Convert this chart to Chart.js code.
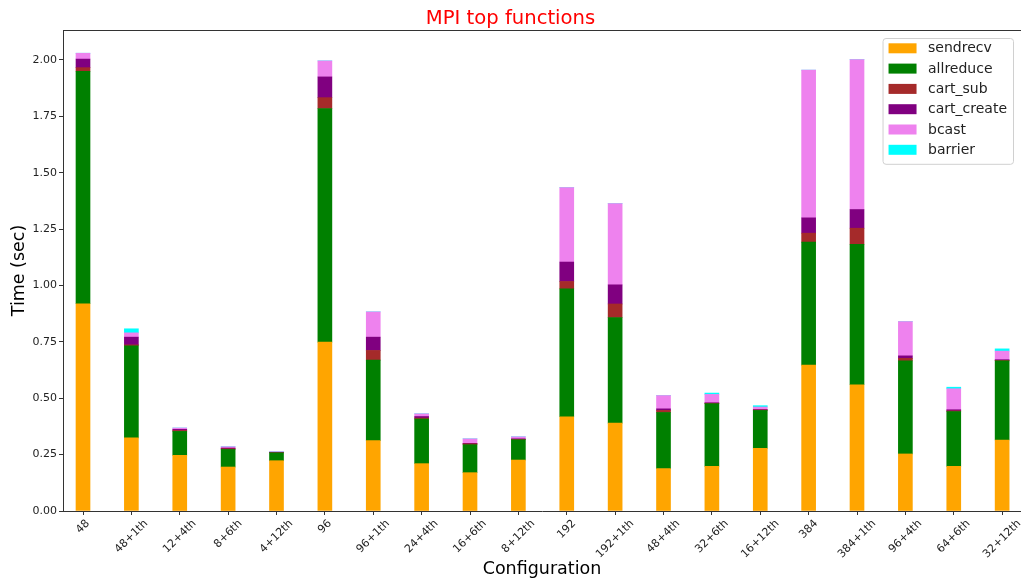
<!DOCTYPE html>
<html>
<head>
<meta charset="utf-8">
<title>MPI top functions</title>
<script src="https://cdn.jsdelivr.net/npm/chart.js@4.4.0/dist/chart.umd.min.js"></script>
<style>
  html, body { margin: 0; padding: 0; background: #fff; }
</style>
</head>
<body>
<canvas id="mpi-chart" width="1021" height="580"></canvas>
<script>
// run configurations (ranks + threads)
const configurations = ["48", "48+1th", "12+4th", "8+6th", "4+12th", "96", "96+1th", "24+4th", "16+6th", "8+12th",
  "192", "192+1th", "48+4th", "32+6th", "16+12th", "384", "384+1th", "96+4th", "64+6th", "32+12th"];

// time spent per MPI call, seconds
const sendrecv    = [0.919, 0.324, 0.247, 0.195, 0.223, 0.749, 0.312, 0.210, 0.170, 0.226,
                     0.418, 0.390, 0.188, 0.198, 0.278, 0.647, 0.560, 0.253, 0.198, 0.315];
const allreduce   = [1.031, 0.409, 0.106, 0.078, 0.035, 1.036, 0.357, 0.198, 0.124, 0.090,
                     0.567, 0.468, 0.249, 0.278, 0.168, 0.545, 0.623, 0.413, 0.243, 0.351];
const cart_sub    = [0.016, 0.004, 0.004, 0.003, 0.001, 0.048, 0.043, 0.004, 0.004, 0.002,
                     0.033, 0.060, 0.009, 0.002, 0.002, 0.040, 0.071, 0.011, 0.003, 0.002];
const cart_create = [0.038, 0.034, 0.005, 0.003, 0.001, 0.092, 0.059, 0.007, 0.002, 0.002,
                     0.086, 0.085, 0.007, 0.002, 0.002, 0.068, 0.083, 0.011, 0.005, 0.003];
const bcast       = [0.026, 0.019, 0.006, 0.006, 0.003, 0.071, 0.112, 0.012, 0.020, 0.009,
                     0.330, 0.360, 0.059, 0.037, 0.011, 0.655, 0.665, 0.152, 0.093, 0.038];
const barrier     = [0, 0.018, 0, 0, 0, 0, 0, 0, 0, 0,
                     0, 0, 0, 0.006, 0.006, 0, 0, 0, 0.007, 0.010];

const yTicks = [0, 0.25, 0.5, 0.75, 1.0, 1.25, 1.5, 1.75, 2.0];

const FONT = "'DejaVu Sans', 'Liberation Sans', sans-serif";
const AXIS = '#333333';

const series = [
  ['sendrecv', sendrecv, '#ffa500'],
  ['allreduce', allreduce, '#008000'],
  ['cart_sub', cart_sub, '#a52a2a'],
  ['cart_create', cart_create, '#800080'],
  ['bcast', bcast, '#ee82ee'],
  ['barrier', barrier, '#00ffff']
];

const datasets = series.map(([name, values, color]) => ({
  label: name,
  data: values.map((v, i) => ({ x: i, y: v })),
  backgroundColor: color,
  borderWidth: 0,
  barThickness: 14
}));

// category names, rotated 45deg and centred under each tick
const rotatedLabels = {
  id: 'rotatedLabels',
  afterDraw(chart) {
    const ctx = chart.ctx;
    const xs = chart.scales.x;
    const size = 11;
    ctx.save();
    ctx.font = size + 'px ' + FONT;
    ctx.fillStyle = '#222';
    ctx.textAlign = 'center';
    ctx.textBaseline = 'middle';
    const top = chart.chartArea.bottom + 7;
    configurations.forEach((name, i) => {
      const w = ctx.measureText(name).width;
      const box = (w + size) * Math.SQRT1_2;
      ctx.save();
      ctx.translate(xs.getPixelForValue(i), top + box / 2);
      ctx.rotate(-Math.PI / 4);
      ctx.fillText(name, 0, 0);
      ctx.restore();
    });
    ctx.restore();
  }
};

// top spine
const frame = {
  id: 'frame',
  afterDraw(chart) {
    const { left, right, top } = chart.chartArea;
    const ctx = chart.ctx;
    ctx.save();
    ctx.strokeStyle = AXIS;
    ctx.lineWidth = 1;
    ctx.beginPath();
    ctx.moveTo(left, top + 0.5);
    ctx.lineTo(right, top + 0.5);
    ctx.stroke();
    ctx.restore();
  }
};

// legend box in the upper right corner of the plot
const cornerLegend = {
  id: 'cornerLegend',
  afterDraw(chart) {
    const ctx = chart.ctx;
    const area = chart.chartArea;
    const size = 14, rowH = 20.3, pad = 6, handle = 28, gap = 11.5;
    ctx.save();
    ctx.font = size + 'px ' + FONT;
    const items = chart.data.datasets;
    const textW = Math.max(...items.map(d => ctx.measureText(d.label).width));
    const w = pad + handle + gap + textW + pad;
    const h = items.length * rowH + 4;
    const x0 = area.right - 8 - w;
    const y0 = area.top + 8;
    ctx.beginPath();
    ctx.roundRect(x0 + 0.5, y0 + 0.5, w, h, 3);
    ctx.fillStyle = 'rgba(255,255,255,0.8)';
    ctx.fill();
    ctx.strokeStyle = '#d0d0d0';
    ctx.lineWidth = 1;
    ctx.stroke();
    ctx.textBaseline = 'middle';
    ctx.textAlign = 'left';
    items.forEach((d, i) => {
      const cy = y0 + 10.3 + i * rowH;
      ctx.fillStyle = d.backgroundColor;
      ctx.fillRect(x0 + pad, cy - 5, handle, 10);
      ctx.fillStyle = '#222';
      ctx.fillText(d.label, x0 + pad + handle + gap, cy + 0.5);
    });
    ctx.restore();
  }
};

new Chart(document.getElementById('mpi-chart'), {
  type: 'bar',
  data: { datasets: datasets },
  plugins: [rotatedLabels, frame, cornerLegend],
  options: {
    responsive: false,
    animation: false,
    devicePixelRatio: 1,
    layout: { padding: 0 },
    plugins: {
      legend: { display: false },
      tooltip: { enabled: false },
      title: {
        display: true,
        text: 'MPI top functions',
        color: '#ff0000',
        font: { family: FONT, size: 19.6, weight: 'normal', lineHeight: '22px' },
        padding: { top: 8, bottom: 0 }
      }
    },
    scales: {
      x: {
        type: 'linear',
        stacked: true,
        offset: false,
        min: -0.4135,
        max: 19.39,
        afterBuildTicks: s => { s.ticks = configurations.map((_, i) => ({ value: i })); },
        afterFit: s => { s.height = 69; },
        ticks: { display: false },
        grid: { display: true, offset: false, drawOnChartArea: false, drawTicks: true, tickLength: 4, color: AXIS },
        border: { display: true, color: AXIS, width: 1 },
        title: {
          display: true,
          text: 'Configuration',
          color: '#000',
          font: { family: FONT, size: 17.5 },
          padding: { top: 0, bottom: 0 }
        }
      },
      y: {
        stacked: true,
        min: 0,
        max: 2.133,
        afterBuildTicks: s => { s.ticks = yTicks.map(v => ({ value: v })); },
        afterFit: s => { s.width = 63; },
        ticks: {
          padding: 2,
          color: '#222',
          font: { family: FONT, size: 11 },
          callback: v => Number(v).toFixed(2)
        },
        grid: { display: true, drawOnChartArea: false, drawTicks: true, tickLength: 4, color: AXIS },
        border: { display: true, color: AXIS, width: 1 },
        title: {
          display: true,
          text: 'Time (sec)',
          color: '#000',
          font: { family: FONT, size: 17.5 },
          padding: { top: 8.5, bottom: 0 }
        }
      }
    }
  }
});
</script>
</body>
</html>
